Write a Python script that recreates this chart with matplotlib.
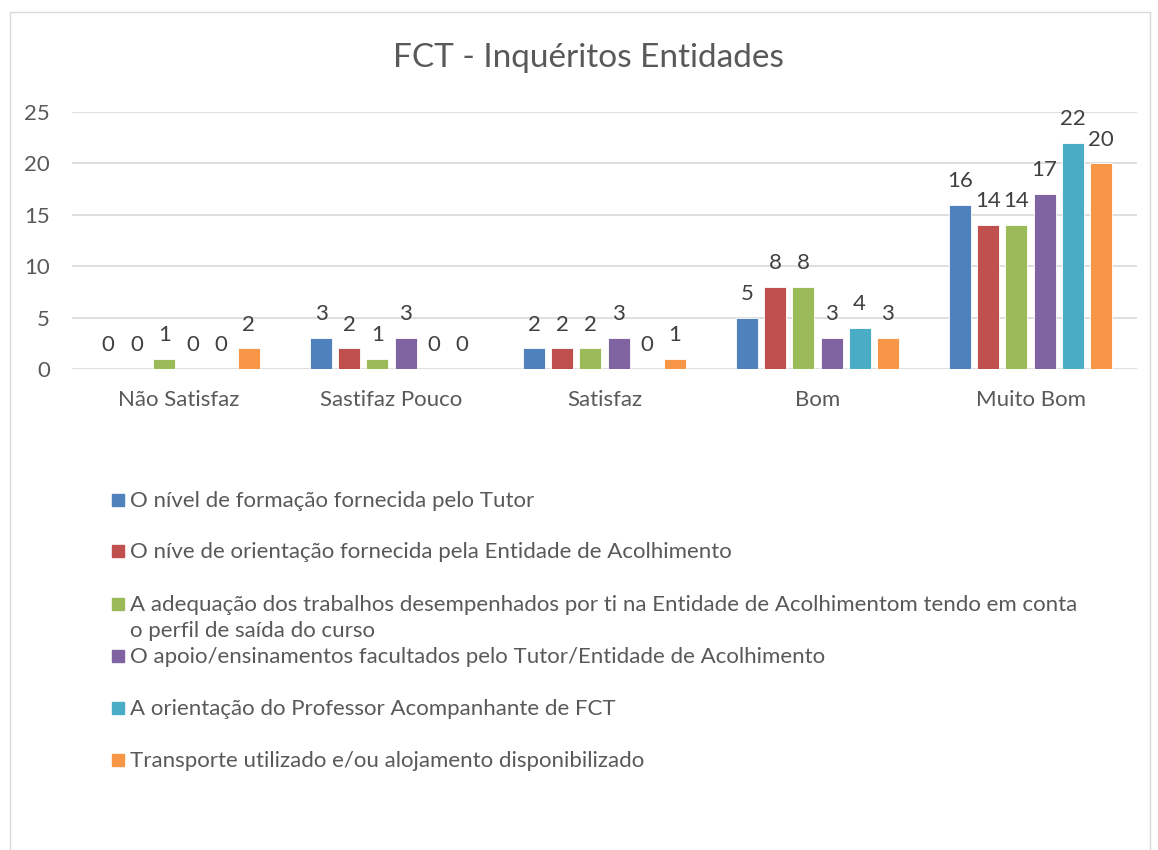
import matplotlib
matplotlib.use('Agg')
from matplotlib import pyplot as plt
from matplotlib.patches import Rectangle
import numpy as np

categories = ['Não Satisfaz', 'Sastifaz Pouco', 'Satisfaz', 'Bom', 'Muito Bom']
series_names = [
    'O nível de formação fornecida pelo Tutor',
    'O níve de orientação fornecida pela Entidade de Acolhimento',
    'A adequação dos trabalhos desempenhados por ti na Entidade de Acolhimentom tendo em conta\no perfil de saída do curso',
    'O apoio/ensinamentos facultados pelo Tutor/Entidade de Acolhimento',
    'A orientação do Professor Acompanhante de FCT',
    'Transporte utilizado e/ou alojamento disponibilizado',
]
tutor = [0, 3, 2, 5, 16]
entidade = [0, 2, 2, 8, 14]
adequacao = [1, 1, 2, 8, 14]
apoio = [0, 3, 3, 3, 17]
professor = [0, 0, 0, 4, 22]
transporte = [2, 0, 1, 3, 20]
yticks = [0, 5, 10, 15, 20, 25]

series = [tutor, entidade, adequacao, apoio, professor, transporte]
colors = ['#4F81BD', '#C0504D', '#9BBB59', '#8064A2', '#4BACC6', '#F79646']
text_color = '#595959'

plt.rcParams['font.family'] = ['Lato', 'DejaVu Sans']

W, H = 1158, 850
fig = plt.figure(figsize=(W / 100, H / 100), dpi=100)

# chart border
fig.patches.append(Rectangle((10 / W, -0.1), (1150 - 10) / W, 1.1 - 12 / H,
                             transform=fig.transFigure, fill=False,
                             edgecolor='#D9D9D9', linewidth=1))

ax = fig.add_axes([72 / W, (H - 369) / H, (1137 - 72) / W, (369 - 112) / H])

x = np.arange(len(categories))
step = 0.132
width = 0.103
for i, (vals, col) in enumerate(zip(series, colors)):
    pos = x + (i - 2.5) * step
    ax.bar(pos, vals, width, color=col, edgecolor='white', linewidth=0.6, zorder=3)
    for xp, v in zip(pos, vals):
        ax.annotate(str(v), (xp, v), xytext=(0, 10), textcoords='offset points',
                    ha='center', va='bottom', fontsize=16, color='#404040')

ax.set_xlim(-0.5, len(categories) - 0.5)
ax.set_ylim(0, 25)
ax.set_yticks(yticks)
ax.set_xticks(x)
ax.set_xticklabels(categories)
ax.grid(axis='y', color='#D9D9D9', linewidth=1.2, zorder=0)
for s in ax.spines.values():
    s.set_visible(False)
ax.tick_params(axis='both', length=0, labelsize=16, labelcolor=text_color)
ax.tick_params(axis='y', pad=16)
ax.tick_params(axis='x', pad=15)

fig.text(588 / W, 1 - 58 / H, 'FCT - Inquéritos Entidades', ha='center', va='center',
         fontsize=24, color=text_color)

# legend
legend_y = [500, 551, 604, 656, 708, 760]
for name, col, ly in zip(series_names, colors, legend_y):
    fig.patches.append(Rectangle((112 / W, 1 - (ly + 6) / H), 12 / W, 12 / H,
                                 transform=fig.transFigure, color=col))
    fig.text(130 / W, 1 - (ly - 9) / H, name, ha='left', va='top',
             fontsize=16, color=text_color, linespacing=1.4)

fig.savefig('out.png', dpi=100)
